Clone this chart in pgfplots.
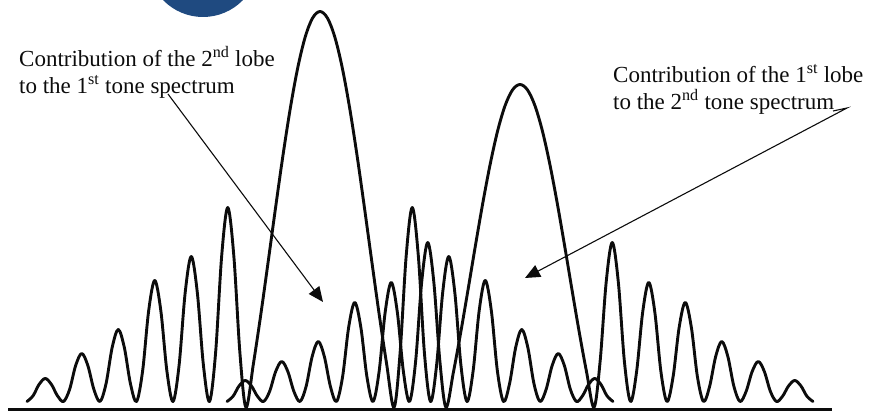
\documentclass[border=0pt]{standalone}
\usepackage{fontspec}
\setmainfont{Liberation Serif}
\usepackage{pgfplots}
\pgfplotsset{compat=1.18}
\usetikzlibrary{arrows.meta}
\definecolor{circblue}{RGB}{31,74,128}
\definecolor{ink}{RGB}{12,12,12}
\begin{document}
\begin{tikzpicture}
\useasboundingbox (0,0) rectangle (885pt,419pt);
\begin{axis}[
  at={(0pt,0pt)}, anchor=south west,
  scale only axis, width=885pt, height=419pt,
  xmin=0, xmax=885, ymin=-9.5, ymax=409.5,
  hide axis, clip=true,
]
\fill[circblue] (axis cs:203,448.1) circle[radius=55.6pt];
% baseline
\addplot[ink, line width=3pt, no markers] coordinates {(8,0) (832,0)};
% spectrum of tone 1
\addplot[ink, line width=2.9pt, smooth, tension=0.55, no markers, line join=round, line cap=round] coordinates {
(27,8) (33.08,13.75) (39.17,25.25) (45.25,31) (51.33,25.25) (57.42,13.75)
(63.5,8) (69.58,20) (75.67,44) (81.75,56) (87.83,44) (93.92,20)
(100,8) (106.08,26) (112.17,62) (118.25,80) (124.33,62) (130.42,26)
(136.5,8) (142.58,38.25) (148.67,98.75) (154.75,129) (160.83,98.75) (166.92,38.25)
(173,8) (179.08,44.25) (185.17,116.75) (191.25,153) (197.33,116.75) (203.42,44.25)
(209.5,8) (215.58,56.5) (221.67,153.5) (227.75,202) (233.83,153.5) (239.92,56.5)
(246,2) (253.4,45.7) (260.8,95.0) (268.2,148.0) (275.6,202.1) (283,254.3) (290.4,301.8) (297.8,342.0) (305.2,372.5) (312.6,391.5) (320,398) (327.4,391.5) (334.8,372.5) (342.2,342.0) (349.6,301.8) (357,254.3) (364.4,202.1) (371.8,148.0) (379.2,95.0) (386.6,45.7)
(394,2) (400.08,56.5) (406.17,153.5) (412.25,202) (418.33,153.5) (424.42,56.5)
(430.5,8) (436.58,44.25) (442.67,116.75) (448.75,153) (454.83,116.75) (460.92,44.25)
(467,8) (473.08,38.25) (479.17,98.75) (485.25,129) (491.33,98.75) (497.42,38.25)
(503.5,8) (509.58,26) (515.67,62) (521.75,80) (527.83,62) (533.92,26)
(540,8) (546.08,20) (552.17,44) (558.25,56) (564.33,44) (570.42,20)
(576.5,8) (582.58,13.75) (588.67,25.25) (594.75,31) (600.83,25.25) (606.92,13.75) (613,8)
};
% spectrum of tone 2
\addplot[ink, line width=2.9pt, smooth, tension=0.55, no markers, line join=round, line cap=round] coordinates {
(227,8) (233.08,13.25) (239.17,23.75) (245.25,29) (251.33,23.75) (257.42,13.25)
(263.5,8) (269.58,18) (275.67,38) (281.75,48) (287.83,38) (293.92,18)
(300,8) (306.08,23) (312.17,53) (318.25,68) (324.33,53) (330.42,23)
(336.5,8) (342.58,32.75) (348.67,82.25) (354.75,107) (360.83,82.25) (366.92,32.75)
(373,8) (379.08,37.75) (385.17,97.25) (391.25,127) (397.33,97.25) (403.42,37.75)
(409.5,8) (415.58,47.75) (421.67,127.25) (427.75,167) (433.83,127.25) (439.92,47.75)
(446,2) (453.4,37.3) (460.8,77.5) (468.2,120.8) (475.6,165.0) (483,207.6) (490.4,246.4) (497.8,279.3) (505.2,304.2) (512.6,319.7) (520,325) (527.4,319.7) (534.8,304.2) (542.2,279.3) (549.6,246.4) (557,207.6) (564.4,165.0) (571.8,120.8) (579.2,77.5) (586.6,37.3)
(594,2) (600.08,47.75) (606.17,127.25) (612.25,167) (618.33,127.25) (624.42,47.75)
(630.5,8) (636.58,37.75) (642.67,97.25) (648.75,127) (654.83,97.25) (660.92,37.75)
(667,8) (673.08,32.75) (679.17,82.25) (685.25,107) (691.33,82.25) (697.42,32.75)
(703.5,8) (709.58,23) (715.67,53) (721.75,68) (727.83,53) (733.92,23)
(740,8) (746.08,18) (752.17,38) (758.25,48) (764.33,38) (770.42,18)
(776.5,8) (782.58,13.25) (788.67,23.75) (794.75,29) (800.83,23.75) (806.92,13.25) (813,8)
};
% annotations
\node[anchor=base west, inner sep=0pt, font=\fontsize{23}{27}\selectfont, text=ink] at (axis cs:19,342.5) {Contribution of the 2\textsuperscript{nd} lobe};
\node[anchor=base west, inner sep=0pt, font=\fontsize{23}{27}\selectfont, text=ink] at (axis cs:19,315.5) {to the 1\textsuperscript{st} tone spectrum};
\node[anchor=base west, inner sep=0pt, font=\fontsize{23}{27}\selectfont, text=ink] at (axis cs:613,326.5) {Contribution of the 1\textsuperscript{st} lobe};
\node[anchor=base west, inner sep=0pt, font=\fontsize{23}{27}\selectfont, text=ink] at (axis cs:613,299.5) {to the 2\textsuperscript{nd} tone spectrum};
\draw[ink, line width=1.1pt, -{Triangle[length=15pt,width=13pt]}] (axis cs:168,315.5) -- (axis cs:323,107.5);
\draw[ink, line width=1.1pt, -{Triangle[length=15pt,width=13pt]}] (axis cs:833,298.5) -- (axis cs:847,301.5) -- (axis cs:525,131.5);
\end{axis}
\end{tikzpicture}
\end{document}
